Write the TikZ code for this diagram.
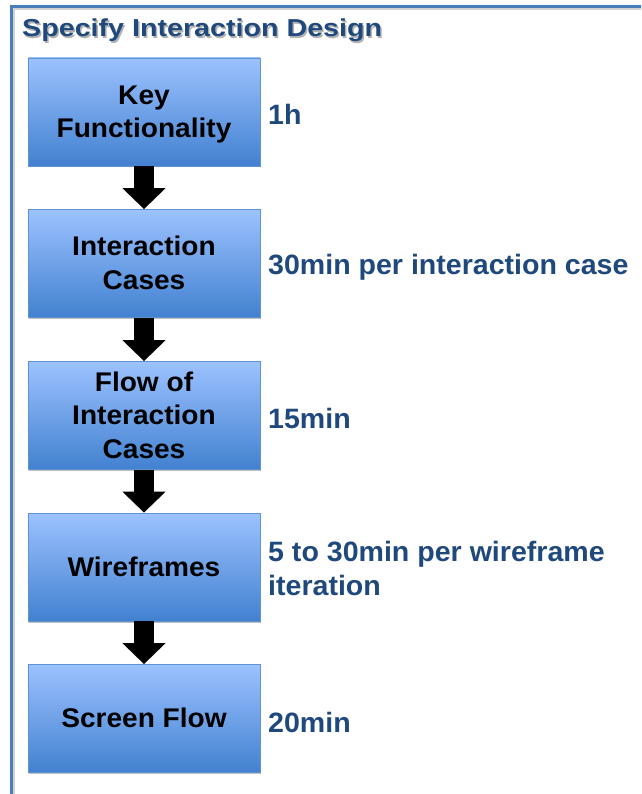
\documentclass[tikz,border=0pt]{standalone}
\usepackage{fontspec}
\setmainfont{Liberation Sans}
\newfontfamily\titlefont{Liberation Sans}[UprightFont={* Bold}, FakeStretch=1.17]
\newfontfamily\boxfont{Liberation Sans}[UprightFont={* Bold}, FakeStretch=1.04]
\newfontfamily\notefont{Liberation Sans}[UprightFont={* Bold}, FakeStretch=1.02]
\usetikzlibrary{arrows.meta,shadows}

\definecolor{frameblue}{HTML}{4A7EBB}
\definecolor{textblue}{HTML}{1F497D}
\definecolor{boxtop}{HTML}{9CC2FF}
\definecolor{boxmid}{HTML}{7DA9EA}
\definecolor{boxbot}{HTML}{4281D0}
\definecolor{boxline}{HTML}{5E93D4}

% struts that give every step label the same top and bottom extent
\newcommand\firststrut{\rule{0pt}{24.2pt}}
\newcommand\laststrut{\vphantom{gy}}

\tikzset{
  stepbox/.style={
    draw=boxline, line width=0.8pt,
    top color=boxtop, middle color=boxmid, bottom color=boxbot,
    minimum width=232pt, minimum height=108pt, inner sep=0pt,
    align=center, text=black,
    font=\boxfont\fontsize{27pt}{33.5pt}\selectfont,
    drop shadow={shadow xshift=1.2pt, shadow yshift=-1.5pt, opacity=0.25, fill=black}
  },
  timenote/.style={
    anchor=base west, inner sep=0pt, align=left, text=textblue,
    font=\notefont\fontsize{28pt}{33.5pt}\selectfont
  },
  flowarrow/.style={
    draw=black, line width=20pt,
    -{Triangle[width=42pt,length=21pt]}
  }
}

\begin{document}
\begin{tikzpicture}[x=1pt,y=-1pt]
  \useasboundingbox (0,0) rectangle (641,794);
  \clip (0,0) rectangle (641,794);

  % frame around the whole process
  \draw[black!35, line width=3pt, opacity=0.5] (13,8.5) rectangle (720,900);
  \draw[frameblue, line width=3pt] (11.5,6.5) rectangle (720,900);

  % heading with its soft shadow
  \node[anchor=base west, inner sep=0pt, text=black!30,
        font=\titlefont\fontsize{24.5pt}{29pt}\selectfont] (titleshadow) at (23.5,38.5) {Specify Interaction Design};
  \node[anchor=base west, inner sep=0pt, text=textblue,
        font=\titlefont\fontsize{24.5pt}{29pt}\selectfont] (title) at (22,37) {Specify Interaction Design};

  % process steps
  \node[stepbox] (b1) at (144,112)   {\firststrut Key\\Functionality\laststrut};
  \node[stepbox] (b2) at (144,263.5) {\firststrut Interaction\\Cases\laststrut};
  \node[stepbox] (b3) at (144,415.5) {\firststrut Flow of\\Interaction\\Cases\laststrut};
  \node[stepbox] (b4) at (144,567)   {\firststrut Wireframes\laststrut};
  \node[stepbox] (b5) at (144,718.5) {\firststrut Screen Flow\laststrut};

  % arrows between steps
  \draw[flowarrow] (b1.south) -- (b2.north);
  \draw[flowarrow] (b2.south) -- (b3.north);
  \draw[flowarrow] (b3.south) -- (b4.north);
  \draw[flowarrow] (b4.south) -- (b5.north);

  % time estimates
  \node[timenote] (t1) at (268,124.5) {1h};
  \node[timenote] (t2) at (268,274.5) {30min per interaction case};
  \node[timenote] (t3) at (268,428)   {15min};
  \node[timenote] (t4) at (268,595)   {5 to 30min per wireframe\\iteration};
  \node[timenote] (t5) at (268,732.5) {20min};
\end{tikzpicture}
\end{document}
